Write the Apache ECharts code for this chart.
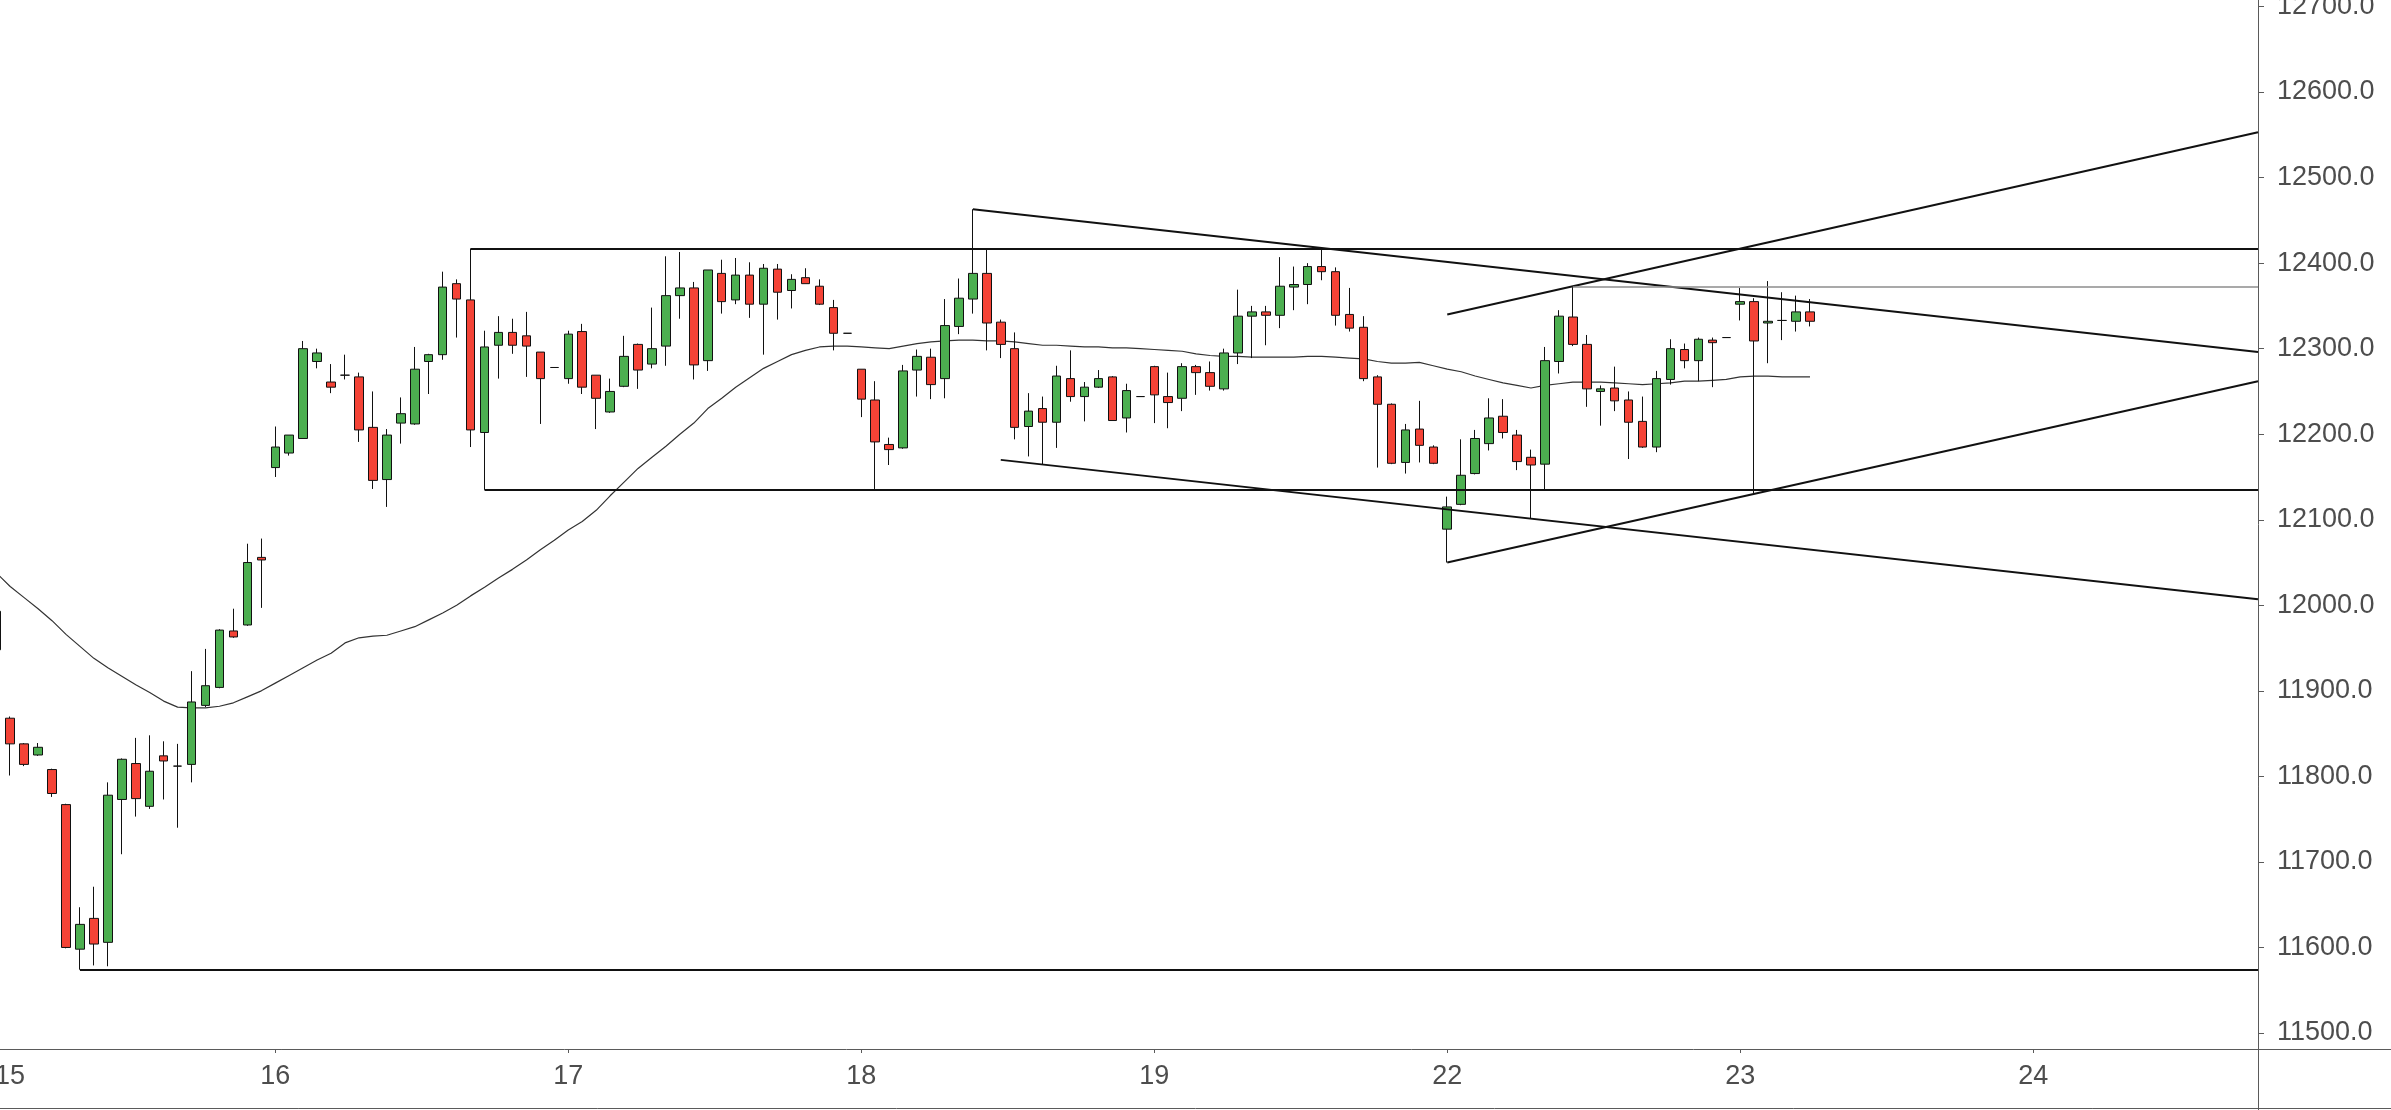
<!DOCTYPE html>
<html>
<head>
<meta charset="utf-8">
<script src="https://cdn.jsdelivr.net/npm/echarts@6/dist/echarts.min.js"></script>
<style>
html,body{margin:0;padding:0;background:#fff;}
#c{width:2391px;height:1110px;}
</style>
</head>
<body>
<div id="c"></div>
<script>
// ---------------- DATA ----------------
const dayLabels = ['15', '16', '17', '18', '19', '22', '23', '24'];
const barsPerDay = 21;
const firstBarIndex = 1; // bar index of first entry (index 0 = first bar of day 15, off screen)

const opens = [11948,11868,11838,11825,11808,11767,11598,11634,11606,11773,11815,11765,11824,11812,11814,11883,11904,11970,11977,12056,
12161,12178,12195,12285,12261,12269,12267,12208,12147,12213,12212,12285,12293,12376,12357,12202,12304,12319,12315,12296,12278,
12265,12320,12269,12226,12256,12305,12282,12303,12362,12371,12286,12388,12357,12386,12352,12393,12368,12383,12373,12348,12318,
12276,12240,12188,12184,12275,12290,12265,12326,12358,12388,12331,12300,12209,12230,12214,12265,12244,12255,12267,12219,12244,
12279,12244,12242,12279,12272,12253,12295,12338,12343,12339,12372,12375,12396,12390,12340,12325,12267,12235,12167,12206,12185,
12089,12118,12154,12189,12221,12199,12173,12165,12285,12337,12305,12250,12254,12240,12215,12185,12264,12299,12286,12310,12313,
12352,12355,12330,12333,12332,12343];
const closes = [11993,11838,11814,11834,11780,11600,11627,11604,11778,11820,11774,11806,11818,11812,11887,11906,11971,11963,12050,12053,
12185,12199,12300,12295,12255,12269,12205,12146,12199,12224,12276,12293,12372,12358,12205,12302,12319,12304,12303,12265,12278,
12317,12255,12242,12250,12291,12275,12300,12362,12371,12281,12392,12355,12386,12352,12394,12366,12381,12376,12352,12318,12318,
12241,12191,12182,12274,12291,12258,12327,12359,12388,12330,12305,12208,12227,12214,12268,12244,12255,12265,12216,12251,12244,
12246,12237,12279,12272,12256,12295,12338,12343,12339,12373,12375,12396,12390,12339,12324,12265,12235,12166,12205,12187,12166,
12115,12152,12195,12219,12202,12168,12164,12286,12338,12305,12253,12253,12239,12214,12185,12265,12300,12286,12311,12307,12313,
12355,12309,12332,12333,12343,12332];
const lows = [11940,11801,11812,11824,11776,11599,11574,11579,11578,11709,11753,11762,11773,11740,11793,11881,11903,11962,11976,11997,
12150,12175,12195,12277,12248,12264,12191,12136,12115,12189,12211,12247,12287,12313,12185,12135,12265,12294,12267,12212,12278,
12259,12247,12206,12225,12255,12253,12277,12280,12335,12264,12274,12341,12352,12336,12293,12334,12347,12376,12351,12298,12318,
12220,12136,12164,12183,12244,12241,12242,12317,12341,12298,12289,12194,12174,12165,12184,12238,12215,12254,12216,12202,12244,
12213,12207,12227,12246,12251,12251,12282,12289,12304,12324,12345,12352,12380,12327,12320,12262,12161,12165,12154,12167,12165,
12050,12117,12153,12181,12195,12158,12102,12135,12271,12303,12232,12210,12227,12171,12184,12179,12258,12277,12262,12255,12313,
12333,12131,12283,12310,12320,12326];
const highs = [12000,11870,11839,11839,11809,11768,11647,11671,11793,11821,11845,11848,11841,11838,11923,11949,11972,11996,12072,12078,
12209,12199,12309,12300,12282,12293,12272,12250,12206,12243,12302,12294,12390,12381,12417,12321,12338,12335,12343,12296,12278,
12321,12329,12269,12265,12315,12306,12348,12408,12413,12378,12392,12404,12406,12401,12399,12399,12387,12394,12381,12357,12318,
12276,12262,12196,12281,12299,12300,12358,12382,12463,12417,12334,12319,12248,12244,12280,12298,12261,12275,12268,12259,12244,
12280,12272,12283,12281,12285,12300,12369,12350,12350,12407,12396,12400,12416,12395,12371,12338,12269,12236,12212,12239,12187,
12127,12194,12205,12242,12241,12205,12182,12302,12345,12372,12316,12257,12279,12250,12244,12274,12311,12306,12313,12313,12313,
12371,12359,12379,12366,12362,12358];
const movingAvg = [12038,12022,12009,11996,11982,11966,11952,11938,11927,11917,11907,11898,11888,11881,11880,11880,11882,11886,11893,11900,
11909,11918,11927,11936,11944,11956,11962,11964,11965,11970,11975,11983,11991,12000,12011,12021,12032,12042,12053,12065,12076,
12088,12098,12111,12128,12144,12160,12173,12186,12200,12213,12230,12242,12255,12266,12277,12285,12293,12298,12302,12303,12303,
12302,12301,12300,12303,12306,12308,12309,12310,12310,12309,12309,12308,12306,12304,12304,12303,12302,12302,12301,12301,12300,
12299,12298,12297,12294,12292,12291,12291,12290,12290,12290,12290,12291,12291,12290,12289,12288,12285,12283,12283,12284,12280,
12276,12273,12268,12264,12260,12257,12254,12257,12259,12261,12261,12261,12260,12259,12258,12259,12260,12262,12262,12263,12264,
12267,12268,12268,12267,12267,12267];
// Drawn lines: [startBarIndex, startValue, endValue]; they run to the right edge of the plot
const levelLines = [[35, 12417, 12417], [36, 12135, 12135], [7, 11574, 11574]];
const trendLines = [[71, 12463, 12296], [73, 12170, 12007], [105, 12050, 12262], [105, 12340, 12553]];
const thinLevel = [[114, 12372, 12372]];
const yTickValues = [11500, 11600, 11700, 11800, 11900, 12000, 12100, 12200, 12300, 12400, 12500, 12600, 12700];

// ---------------- LAYOUT ----------------
const X_MIN = 1.27, X_MAX = 163.11;
const Y_MIN = 11481.3, Y_MAX = 12707.6;
const W = 2391, H = 1110, GRID_RIGHT = 133, GRID_BOTTOM = 61;

const candles = opens.map((o, k) => [k + firstBarIndex, o, closes[k], lows[k], highs[k]]);
const maData = movingAvg.map((v, k) => [k + firstBarIndex, v]);

const dayStart = dayLabels.map((d, k) => k * barsPerDay);
const labelVals = dayStart.map(v => Math.max(v, X_MIN + 0.72));
const tickVals = dayStart.filter(v => v > X_MIN);
function dayLabel(v) {
  let best = 0, bd = Infinity;
  labelVals.forEach((lv, k) => { const d = Math.abs(lv - v); if (d < bd) { bd = d; best = k; } });
  return dayLabels[best];
}

function mk(list, color, width) {
  return list.map(l => [
    { coord: [l[0], l[1]], lineStyle: { color: color, width: width, type: 'solid' } },
    { coord: [X_MAX, l[2]] }
  ]);
}

const textStyle = { color: '#4d4d4d', fontSize: 27, fontFamily: 'Liberation Sans' };

const chart = echarts.init(document.getElementById('c'), null, { renderer: 'canvas', width: W, height: H });
chart.setOption({
  animation: false,
  backgroundColor: '#ffffff',
  grid: { left: 0, right: GRID_RIGHT, top: 0, bottom: GRID_BOTTOM, containLabel: false, outerBoundsMode: 'none' },
  xAxis: {
    type: 'value', min: X_MIN, max: X_MAX,
    splitLine: { show: false },
    axisLine: { show: true, onZero: false, lineStyle: { color: '#5a5a5a', width: 1 } },
    axisTick: { show: true, length: 4, customValues: tickVals, lineStyle: { color: '#5a5a5a' } },
    axisLabel: Object.assign({ customValues: labelVals, formatter: dayLabel, margin: 14 }, textStyle)
  },
  yAxis: {
    type: 'value', position: 'right', min: Y_MIN, max: Y_MAX, scale: true,
    splitLine: { show: false },
    axisLine: { show: true, onZero: false, lineStyle: { color: '#5a5a5a', width: 1 } },
    axisTick: { show: true, length: 6, customValues: yTickValues, lineStyle: { color: '#5a5a5a' } },
    axisLabel: Object.assign({ customValues: yTickValues, formatter: v => Number(v).toFixed(1), margin: 19 }, textStyle)
  },
  series: [
    {
      type: 'line', data: maData, showSymbol: false, symbol: 'none', z: 1,
      lineStyle: { color: '#333333', width: 1.2 }, silent: true
    },
    {
      type: 'candlestick', data: candles, z: 3,
      encode: { x: 0, y: [1, 2, 3, 4] },
      barWidth: 9,
      itemStyle: {
        color: '#4CAF50', color0: '#F44336',
        borderColor: '#111', borderColor0: '#111', borderColorDoji: '#111', borderWidth: 1
      },
      markLine: {
        silent: true, symbol: ['none', 'none'], label: { show: false },
        animation: false,
        data: mk(levelLines, '#111', 2).concat(mk(trendLines, '#111', 2)).concat(mk(thinLevel, '#8c8c8c', 1.5))
      }
    }
  ],
  graphic: [
    { type: 'line', shape: { x1: W - GRID_RIGHT + 0.5, y1: H - GRID_BOTTOM, x2: W - GRID_RIGHT + 0.5, y2: H }, style: { stroke: '#5a5a5a', lineWidth: 1 }, silent: true },
    { type: 'line', shape: { x1: W - GRID_RIGHT, y1: H - GRID_BOTTOM + 0.5, x2: W, y2: H - GRID_BOTTOM + 0.5 }, style: { stroke: '#5a5a5a', lineWidth: 1 }, silent: true },
    { type: 'line', shape: { x1: 0, y1: H - 1.5, x2: W, y2: H - 1.5 }, style: { stroke: '#5a5a5a', lineWidth: 1 }, silent: true }
  ]
});
</script>
</body>
</html>
